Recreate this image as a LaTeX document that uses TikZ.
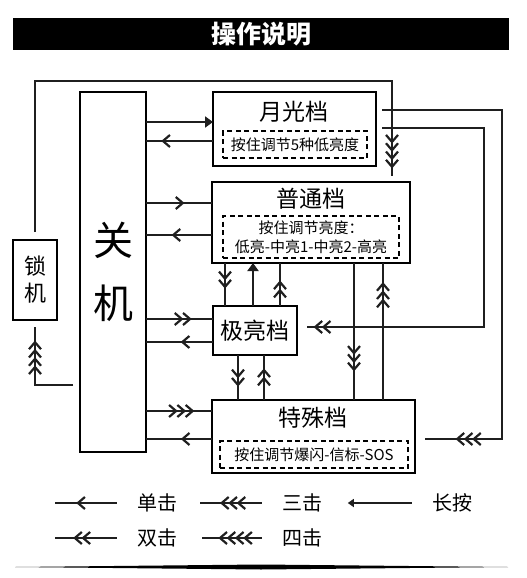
\documentclass[tikz,border=0pt]{standalone}
\usepackage{fontspec}
\setmainfont{Noto Sans CJK SC}
\usetikzlibrary{arrows.meta,decorations.markings,calc}

\begin{document}
\begin{tikzpicture}[x=1pt, y=-1pt, >={Straight Barb[length=7pt,width=12pt,sep=-1.5pt]}]

        % 定义样式
        \tikzstyle{box} = [rectangle, draw=black, line width=2.4pt, inner sep=0pt, outer sep=0pt]
        \tikzstyle{hint} = [rectangle, draw=black, line width=2pt, dash pattern=on 5pt off 3.5pt, inner sep=0pt, align=center, font=\fontsize{15}{19}\selectfont]
        \tikzstyle{modetitle} = [font=\fontsize{23}{26}\selectfont]
        \tikzstyle{legend} = [inner sep=0pt, font=\fontsize{20}{22}\selectfont]
        \tikzstyle{line} = [line width=2.2pt, draw=black!88]
        \tikzstyle{longpress} = [line, -{Triangle[length=8pt,width=11pt]}]
        \tikzset{
            click1/.style={line, postaction={decorate, decoration={markings, mark=at position #1 with {\arrow{>}}}}},
            click2/.style={line, postaction={decorate, decoration={markings, mark=at position #1 with {\arrow{>>}}}}},
            click3/.style={line, postaction={decorate, decoration={markings, mark=at position #1 with {\arrow{>>>}}}}},
            click4/.style={line, postaction={decorate, decoration={markings, mark=at position #1 with {\arrow{>>>>}}}}}
        }

        \useasboundingbox (0,0) rectangle (527,578);

        % 创建节点
        \node (head) [fill=black, text=white, minimum width=496pt, minimum height=32pt, inner sep=0pt, font=\fontsize{25}{28}\selectfont\bfseries] at (261,34) {操作说明};

        \node (off) [box, minimum width=66pt, minimum height=360pt, align=center, font=\fontsize{40}{63}\selectfont] at (113,272) {关\\机};
        \node (lock) [box, minimum width=44pt, minimum height=80pt, align=center, font=\fontsize{22}{27}\selectfont] at (35,280) {锁\\机};

        \node (moon) [box, minimum width=163pt, minimum height=74pt] at (294.5,129) {};
        \node (moontitle) [modetitle] at (294,112) {月光档};
        \node (moonhint) [hint, minimum width=144pt, minimum height=27pt] at (295,144.5) {按住调节5种低亮度};

        \node (normal) [box, minimum width=198pt, minimum height=81pt] at (311,222.5) {};
        \node (normaltitle) [modetitle] at (311,199) {普通档};
        \node (normalhint) [hint, minimum width=176pt, minimum height=42pt] at (311,237) {按住调节亮度：\\低亮-中亮1-中亮2-高亮};

        \node (ultra) [box, modetitle, minimum width=84pt, minimum height=49pt] at (255,330.5) {极亮档};

        \node (special) [box, minimum width=203pt, minimum height=73pt] at (313.5,436.5) {};
        \node (specialtitle) [modetitle] at (313,418) {特殊档};
        \node (specialhint) [hint, minimum width=188pt, minimum height=27pt] at (314,454.5) {按住调节爆闪-信标-SOS};

        % 关机与各档
        \draw [longpress] (off.east |- 0,122) -- (moon.west |- 0,122);
        \draw [click1=0.75] (moon.west |- 0,141) -- (off.east |- 0,141);
        \draw [click1=0.56] (off.east |- 0,203) -- (normal.west |- 0,203);
        \draw [click1=0.59] (normal.west |- 0,235) -- (off.east |- 0,235);
        \draw [click2=0.66] (off.east |- 0,319) -- (ultra.west |- 0,319);
        \draw [click1=0.46] (ultra.west |- 0,342) -- (off.east |- 0,342);
        \draw [click3=0.71] (off.east |- 0,411) -- (special.west |- 0,411);
        \draw [click1=0.45] (special.west |- 0,439) -- (off.east |- 0,439);

        % 各档之间
        \draw [click2=0.56] (normal.south -| 225,0) -- (ultra.north -| 225,0);
        \draw [longpress] (ultra.north -| 253,0) -- (normal.south -| 253,0);
        \draw [click2=0.56] (ultra.north -| 280,0) -- (normal.south -| 280,0);
        \draw [click2=0.67] (ultra.south -| 238,0) -- (special.north -| 238,0);
        \draw [click2=0.67] (special.north -| 264,0) -- (ultra.south -| 264,0);
        \draw [click3=0.78] (normal.south -| 354,0) -- (special.north -| 354,0);
        \draw [click3=0.85] (special.north -| 383,0) -- (normal.south -| 383,0);

        % 月光档右侧
        \draw [click3=-32pt] ($(moon.east |- 0,110)+(6,0)$) -| (502,439) -- ($(special.east |- 0,439)+(10,0)$);
        \draw [click2=-8pt] ($(moon.east |- 0,128)+(6,0)$) -| (484,327) -- ($(ultra.east |- 0,327)+(10,0)$);

        % 锁机
        \draw [click4=-9pt] ($(lock.north)+(0,-8)$) |- (392,81) -- ($(normal.north -| 392,0)+(0,-6)$);
        \draw [click4=-15pt] ($(off.west |- 0,385)+(-7,0)$) -| ($(lock.south)+(0,7)$);

        % 图例
        \node (single) [legend] at (157,503) {单击};
        \node (triple) [legend] at (302,503) {三击};
        \node (hold) [legend] at (452,503) {长按};
        \node (double) [legend] at (157,538) {双击};
        \node (quad) [legend] at (302,538) {四击};
        \draw [click1=0.63] ($(single.west)+(-20,0)$) -- ($(single.west)+(-82,0)$);
        \draw [click3=0.65] ($(triple.west)+(-20,0)$) -- ($(triple.west)+(-82,0)$);
        \draw [longpress, -{Triangle[length=6pt,width=8pt]}] ($(hold.west)+(-20,0)$) -- ($(hold.west)+(-84,0)$);
        \draw [click2=0.68] ($(double.west)+(-20,0)$) -- ($(double.west)+(-82,0)$);
        \draw [click4=0.7] ($(quad.west)+(-20,0)$) -- ($(quad.west)+(-80,0)$);

        % 底线
        \fill [black] (15,567) -- (261,564.5) -- (508,567) -- (261,569.5) -- cycle;

\end{tikzpicture}
\end{document}
